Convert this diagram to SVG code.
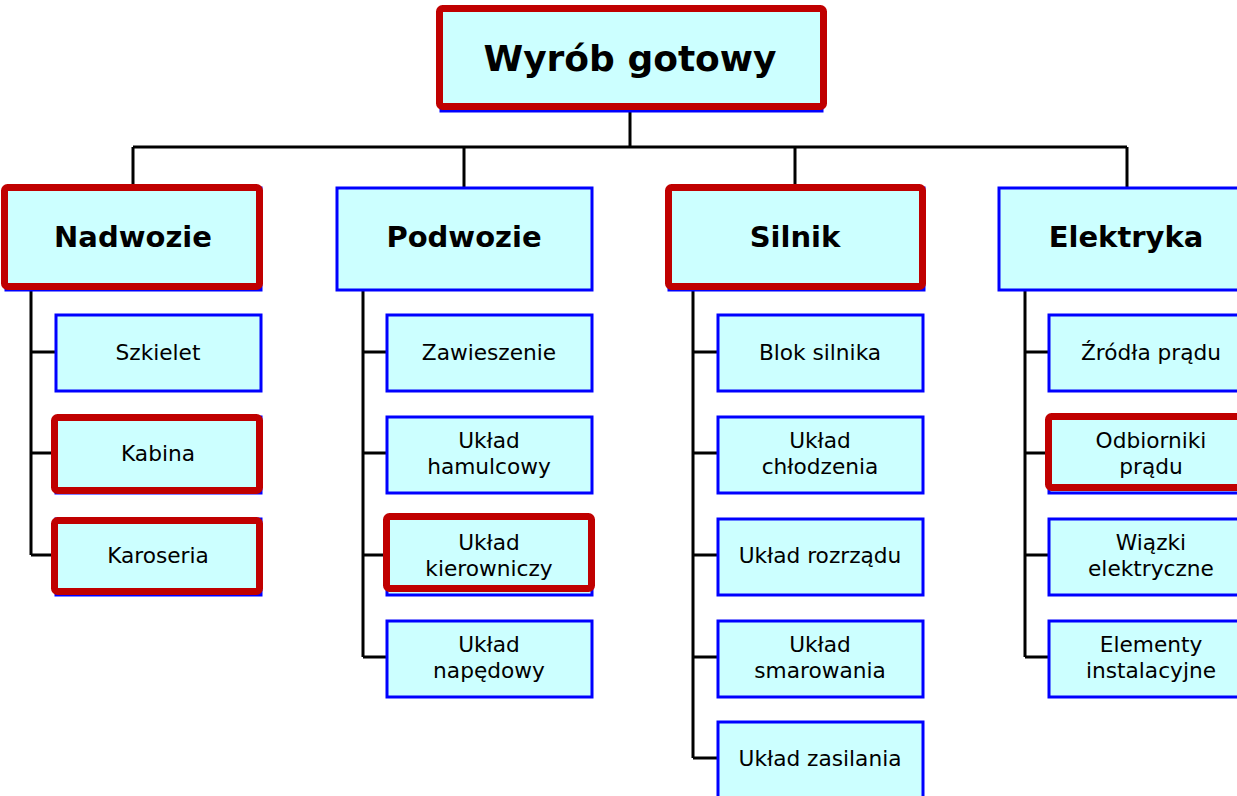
<svg xmlns="http://www.w3.org/2000/svg" width="1237" height="796" viewBox="0 0 1237 796">
<style>
.b{fill:#CCFFFF;stroke:#0000FF;stroke-width:3}
.r{fill:#CCFFFF;stroke:#C00000;stroke-width:7}
.c{fill:none;stroke:#000;stroke-width:3}
text{font-family:"DejaVu Sans","Verdana",sans-serif;fill:#000;text-anchor:middle}
.t0{font-size:36px;font-weight:bold}
.t1{font-size:29px;font-weight:bold}
.t2{font-size:21.7px}
</style>
<rect width="1237" height="796" fill="#fff"/>
<g id="connectors">
<path class="c" d="M630 110V147M133 147H1127M133 147V187M464 147V187M795 147V187M1127 147V187"/>
<path class="c" d="M31 290V555M31 352H56M31 453H56M31 555H56"/>
<path class="c" d="M363 290V657M363 352H387M363 453H387M363 555H387M363 657H387"/>
<path class="c" d="M693 290V758M693 352H718M693 453H718M693 555H718M693 657H718M693 758H718"/>
<path class="c" d="M1025 290V657M1025 352H1049M1025 453H1049M1025 555H1049M1025 657H1049"/>
</g>
<g id="root"><rect class="b" x="441" y="11" width="381" height="100"/><rect class="r" x="439.5" y="8.5" width="384" height="98" rx="3"/><text class="t0" x="630" y="71">Wyrób gotowy</text></g>
<g id="nadwozie"><rect class="b" x="6" y="188" width="255" height="102"/><rect class="r" x="4.5" y="187.5" width="255" height="99" rx="3"/><text class="t1" x="133" y="247">Nadwozie</text></g>
<g id="podwozie"><rect class="b" x="337" y="188" width="255" height="102"/><text class="t1" x="464" y="247">Podwozie</text></g>
<g id="silnik"><rect class="b" x="669" y="188" width="255" height="102"/><rect class="r" x="668.5" y="187.5" width="254" height="99" rx="3"/><text class="t1" x="795" y="247">Silnik</text></g>
<g id="elektryka"><rect class="b" x="999" y="188" width="255" height="102"/><text class="t1" x="1126" y="247">Elektryka</text></g>
<g id="szkielet"><rect class="b" x="56" y="315" width="205" height="76"/><text class="t2" x="158" y="360">Szkielet</text></g>
<g id="kabina"><rect class="b" x="56" y="417" width="205" height="76"/><rect class="r" x="54.5" y="417.5" width="205" height="73" rx="3"/><text class="t2" x="158" y="461">Kabina</text></g>
<g id="karoseria"><rect class="b" x="56" y="519" width="205" height="76"/><rect class="r" x="54.5" y="520.5" width="205" height="71" rx="3"/><text class="t2" x="158" y="563">Karoseria</text></g>
<g id="zawieszenie"><rect class="b" x="387" y="315" width="205" height="76"/><text class="t2" x="489" y="360">Zawieszenie</text></g>
<g id="hamulcowy"><rect class="b" x="387" y="417" width="205" height="76"/><text class="t2" x="489" y="448">Układ</text><text class="t2" x="489" y="474">hamulcowy</text></g>
<g id="kierowniczy"><rect class="b" x="387" y="519" width="205" height="76"/><rect class="r" x="386.5" y="516.5" width="205" height="72" rx="3"/><text class="t2" x="489" y="550">Układ</text><text class="t2" x="489" y="576">kierowniczy</text></g>
<g id="napedowy"><rect class="b" x="387" y="621" width="205" height="76"/><text class="t2" x="489" y="652">Układ</text><text class="t2" x="489" y="678">napędowy</text></g>
<g id="blok"><rect class="b" x="718" y="315" width="205" height="76"/><text class="t2" x="820" y="360">Blok silnika</text></g>
<g id="chlodzenia"><rect class="b" x="718" y="417" width="205" height="76"/><text class="t2" x="820" y="448">Układ</text><text class="t2" x="820" y="474">chłodzenia</text></g>
<g id="rozrzadu"><rect class="b" x="718" y="519" width="205" height="76"/><text class="t2" x="820" y="563">Układ rozrządu</text></g>
<g id="smarowania"><rect class="b" x="718" y="621" width="205" height="76"/><text class="t2" x="820" y="652">Układ</text><text class="t2" x="820" y="678">smarowania</text></g>
<g id="zasilania"><rect class="b" x="718" y="722" width="205" height="76"/><text class="t2" x="820" y="766">Układ zasilania</text></g>
<g id="zrodla"><rect class="b" x="1049" y="315" width="205" height="76"/><text class="t2" x="1151" y="360">Źródła prądu</text></g>
<g id="odbiorniki"><rect class="b" x="1049" y="417" width="205" height="76"/><rect class="r" x="1048.5" y="416.5" width="205" height="71" rx="3"/><text class="t2" x="1151" y="448">Odbiorniki</text><text class="t2" x="1151" y="474">prądu</text></g>
<g id="wiazki"><rect class="b" x="1049" y="519" width="205" height="76"/><text class="t2" x="1151" y="550">Wiązki</text><text class="t2" x="1151" y="576">elektryczne</text></g>
<g id="elementy"><rect class="b" x="1049" y="621" width="205" height="76"/><text class="t2" x="1151" y="652">Elementy</text><text class="t2" x="1151" y="678">instalacyjne</text></g>
</svg>
